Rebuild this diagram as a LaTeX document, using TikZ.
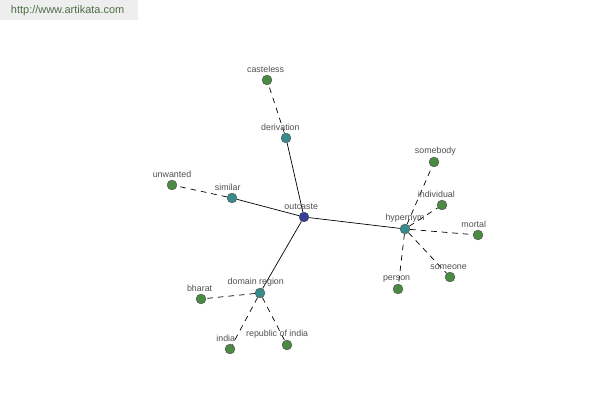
\documentclass[tikz,border=0pt]{standalone}
\usepackage{fontspec}
\setmainfont{Liberation Sans}
\usetikzlibrary{
    positioning,
    backgrounds
}

\definecolor{leafgreen}{RGB}{74,138,66}
\definecolor{midteal}{RGB}{58,140,140}
\definecolor{hubblue}{RGB}{58,62,150}
\definecolor{labelgray}{RGB}{80,80,80}
\definecolor{markgray}{RGB}{238,238,238}
\definecolor{marktext}{RGB}{78,110,70}

\begin{document}
\begin{tikzpicture}[
    x=0.025cm, y=-0.025cm,
    font=\fontsize{6.3}{7}\selectfont,
    dot/.style={
        circle,
        draw=black!70,
        line width=0.3pt,
        minimum size=7pt,
        inner sep=0pt
    },
    leaf/.style={dot, fill=leafgreen},
    mid/.style={dot, fill=midteal},
    hub/.style={dot, fill=hubblue},
    tag/.style={text=labelgray, yshift=-2.2pt},
    strong/.style={line width=0.5pt},
    weak/.style={line width=0.5pt, dash pattern=on 4pt off 3.5pt}
]

% Set bounding box to ensure all content is visible
\useasboundingbox (0,0) rectangle (600,400);

% ================= WATERMARK =================
\node[fill=markgray, minimum width=3.45cm, minimum height=0.5cm,
      anchor=north west, inner sep=0pt] (mark) at (0,0) {};
\node[text=marktext, font=\fontsize{7.8}{9}\selectfont, anchor=west] (marktxt) at (6,11)
{http://www.artikata.com};

% ================= CENTRE =================
\node[hub, label={[tag, xshift=-2pt]above:outcaste}] (outcaste) at (304,217) {};

% ================= FIRST RING =================
\node[mid, label={[tag, xshift=-4pt]above:derivation}] (derivation) at (286,138) {};
\node[mid, label={[tag, xshift=-3pt]above:similar}] (similar) at (232,198) {};
\node[mid, label={[tag]above:hypernym}] (hypernym) at (405,229) {};
\node[mid, label={[tag, xshift=-3pt]above:domain region}] (region) at (260,293) {};

% ================= LEAVES =================
\node[leaf, label={[tag, xshift=-1pt]above:casteless}] (casteless) at (267,80) {};
\node[leaf, label={[tag]above:unwanted}] (unwanted) at (172,185) {};

\node[leaf, label={[tag, xshift=1pt]above:somebody}] (somebody) at (434,162) {};
\node[leaf, label={[tag, xshift=-4pt]above:individual}] (individual) at (442,205) {};
\node[leaf, label={[tag, xshift=-3pt]above:mortal}] (mortal) at (478,235) {};
\node[leaf, label={[tag, xshift=-1pt]above:someone}] (someone) at (450,277) {};
\node[leaf, label={[tag, xshift=-1pt]above:person}] (person) at (398,289) {};

\node[leaf, label={[tag, xshift=-1pt]above:bharat}] (bharat) at (201,299) {};
\node[leaf, label={[tag, xshift=-3pt]above:india}] (india) at (230,349) {};
\node[leaf, label={[tag, xshift=-7pt]above:republic of india}] (rindia) at (287,345) {};

% ================= EDGES =================
\begin{scope}[on background layer]
\draw[strong] (outcaste) -- (derivation);
\draw[strong] (outcaste) -- (similar);
\draw[strong] (outcaste) -- (hypernym);
\draw[strong] (outcaste) -- (region);

\draw[weak] (derivation) -- (casteless);
\draw[weak] (similar) -- (unwanted);

\draw[weak] (hypernym) -- (somebody);
\draw[weak] (hypernym) -- (individual);
\draw[weak] (hypernym) -- (mortal);
\draw[weak] (hypernym) -- (someone);
\draw[weak] (hypernym) -- (person);

\draw[weak] (region) -- (bharat);
\draw[weak] (region) -- (india);
\draw[weak] (region) -- (rindia);
\end{scope}

\end{tikzpicture}
\end{document}
